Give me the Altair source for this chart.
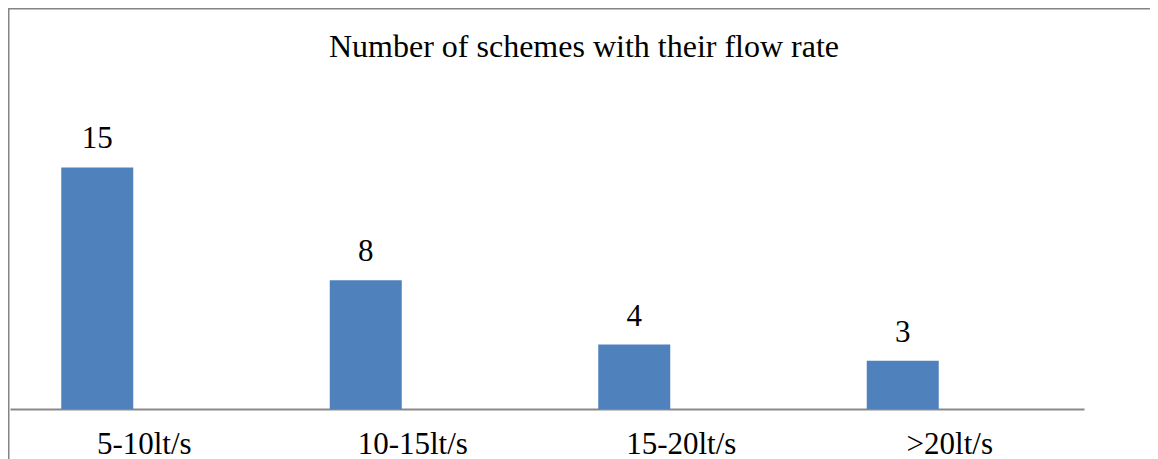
import altair as alt
import pandas as pd

# ---- data ----
categories = ["5-10lt/s", "10-15lt/s", "15-20lt/s", ">20lt/s"]
counts = [15, 8, 4, 3]
title_text = ["Number of schemes with their flow rate"]

df = pd.DataFrame({"rate": categories, "count": counts})
df_title = pd.DataFrame({"t": title_text})
df_one = pd.DataFrame({"k": [0]})

FONT = "Liberation Serif"
BAR = "#4F81BD"
GRAY = "#898989"

x = alt.X(
    "rate:N",
    sort=categories,
    title=None,
    scale=alt.Scale(paddingInner=0, paddingOuter=0),
    axis=alt.Axis(
        labelAngle=0,
        labelFont=FONT,
        labelFontSize=31,
        labelColor="black",
        labelBaseline="alphabetic",
        labelAlign="center",
        labelPadding=44,
        ticks=False,
        tickSize=0,
        domainColor=GRAY,
        domainWidth=2,
        grid=False,
    ),
)
y = alt.Y("count:Q", scale=alt.Scale(domain=[0, 24.78], nice=False, zero=True), axis=None)

base = alt.Chart(df).encode(x=x, y=y)
bars = base.mark_bar(color=BAR, width=72, xOffset=-47)
labels = base.mark_text(
    font=FONT, fontSize=31, baseline="alphabetic", dy=-19, xOffset=-47, color="black"
).encode(text="count:Q")

title = alt.Chart(df_title).mark_text(
    font=FONT, fontSize=32, baseline="alphabetic", align="center", color="black"
).encode(text="t:N", x=alt.value(574), y=alt.value(47))

left_border = alt.Chart(df_one).mark_rule(color="#848484", strokeWidth=2).encode(
    x=alt.value(-1.5), y=alt.value(-2), y2=alt.value(460)
)
top_border = alt.Chart(df_one).mark_rule(color="#848484", strokeWidth=2).encode(
    y=alt.value(-1.5), x=alt.value(-2), x2=alt.value(1200)
)

chart = (
    alt.layer(bars, labels, title, left_border, top_border)
    .properties(
        width=1074,
        height=399,
        autosize=alt.AutoSizeParams(type="none"),
        padding={"left": 2, "top": 2, "right": 66, "bottom": 50},
    )
    .configure_view(stroke=None)
)

chart.save("out.html", embed_options={"renderer": "svg", "actions": False})
